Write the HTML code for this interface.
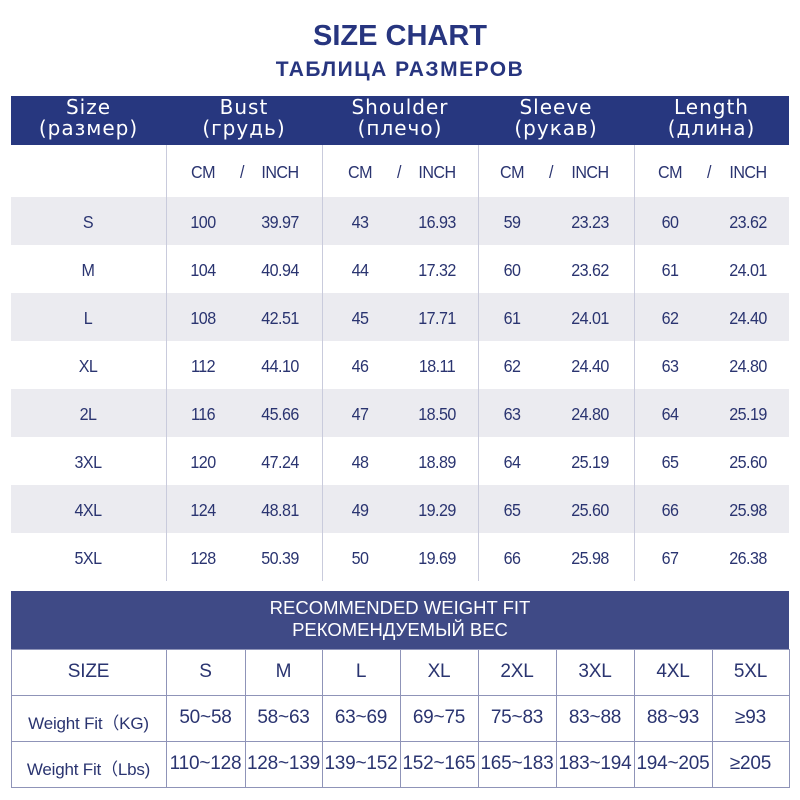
<!DOCTYPE html>
<html><head><meta charset="utf-8"><style>
body{margin:0;width:800px;height:800px;background:#fff;position:relative;overflow:hidden;font-family:"Liberation Sans",sans-serif;color:#2a3470}
.a{position:absolute}
.t{position:absolute;text-align:center;white-space:nowrap}
.n{font-size:17.5px;letter-spacing:-0.6px;transform:scaleX(0.92)}
</style></head><body>
<div class="t" style="left:0;width:800px;top:20px;font-size:29px;font-weight:bold;color:#27357f">SIZE CHART</div>
<div class="t" style="left:0;width:800px;top:58px;font-size:21px;font-weight:bold;color:#27357f;letter-spacing:1.5px">ТАБЛИЦА РАЗМЕРОВ</div>
<div class="a" style="left:11px;top:96px;width:778px;height:49px;background:#27377f"></div>
<div id="hd"></div>
<div id="body"></div>
<div class="a" style="left:11px;top:591px;width:778px;height:58px;background:#3f4a86"></div>
<div class="t" style="left:11px;width:778px;top:597px;font-size:18.5px;color:#fff;line-height:22px">RECOMMENDED WEIGHT FIT<br>РЕКОМЕНДУЕМЫЙ ВЕС</div>
<div id="wt"></div>
<script>
var h='';
var heads=[["Size","(размер)"],["Bust","(грудь)"],["Shoulder","(плечо)"],["Sleeve","(рукав)"],["Length","(длина)"]];
var cx=[11,166,322,478,634,789];
for(var i=0;i<5;i++){h+='<div class="t" style="left:'+cx[i]+'px;width:'+(cx[i+1]-cx[i])+'px;top:97px;line-height:21px;color:#fff;letter-spacing:1px;font-family:\'DejaVu Sans\',sans-serif;font-size:20px">'+heads[i][0]+'<br>'+heads[i][1]+'</div>';}
document.getElementById('hd').innerHTML=h;
var rows=[["S",100,"39.97",43,"16.93",59,"23.23",60,"23.62"],["M",104,"40.94",44,"17.32",60,"23.62",61,"24.01"],["L",108,"42.51",45,"17.71",61,"24.01",62,"24.40"],["XL",112,"44.10",46,"18.11",62,"24.40",63,"24.80"],["2L",116,"45.66",47,"18.50",63,"24.80",64,"25.19"],["3XL",120,"47.24",48,"18.89",64,"25.19",65,"25.60"],["4XL",124,"48.81",49,"19.29",65,"25.60",66,"25.98"],["5XL",128,"50.39",50,"19.69",66,"25.98",67,"26.38"]];
var b='';
for(var r=0;r<8;r++){var y=197+r*48;if(r%2==0)b+='<div class="a" style="left:11px;top:'+y+'px;width:778px;height:48px;background:#ebebf0"></div>';}
for(var i=1;i<5;i++)b+='<div class="a" style="left:'+cx[i]+'px;top:145px;width:1px;height:436px;background:#c9cbdc"></div>';
var px=[88,203,280,360,437,512,590,670,748];
for(var i=0;i<4;i++){var base=i*2+1;b+='<div class="t n" style="left:'+(px[base]-30)+'px;width:60px;top:162px">CM</div><div class="t n" style="left:'+((px[base]+px[base+1])/2-10)+'px;width:20px;top:162px">/</div><div class="t n" style="left:'+(px[base+1]-30)+'px;width:60px;top:162px">INCH</div>';}
for(var r=0;r<8;r++){var y=197+r*48+15;for(var c=0;c<9;c++)b+='<div class="t n" style="left:'+(px[c]-40)+'px;width:80px;top:'+y+'px">'+rows[r][c]+'</div>';}
document.getElementById('body').innerHTML=b;
var wx=[11,166,245,322,400,478,556,634,712,789];
var wr=[["SIZE","S","M","L","XL","2XL","3XL","4XL","5XL"],["Weight Fit（KG)","50~58","58~63","63~69","69~75","75~83","83~88","88~93","≥93"],["Weight Fit（Lbs)","110~128","128~139","139~152","152~165","165~183","183~194","194~205","≥205"]];
var w='';
w+='<div class="a" style="left:11px;top:649px;width:777px;height:137px;border:1px solid #8f94b8"></div>';
for(var i=1;i<9;i++)w+='<div class="a" style="left:'+wx[i]+'px;top:649px;width:1px;height:138px;background:#8f94b8"></div>';
w+='<div class="a" style="left:11px;top:695px;width:778px;height:1px;background:#8f94b8"></div><div class="a" style="left:11px;top:741px;width:778px;height:1px;background:#8f94b8"></div>';
for(var r=0;r<3;r++){var y=649+r*46+12;for(var c=0;c<9;c++){var fs=(c==0&&r>0)?17:19;w+='<div class="t" style="left:'+wx[c]+'px;width:'+(wx[c+1]-wx[c])+'px;top:'+(y+(fs==17?2:0))+'px;font-size:'+fs+'px;letter-spacing:-0.2px;color:#2a3470;font-family:\'Liberation Sans\',\'Noto Sans CJK SC\',sans-serif">'+wr[r][c]+'</div>';}}
document.getElementById('wt').innerHTML=w;
</script>
</body></html>
